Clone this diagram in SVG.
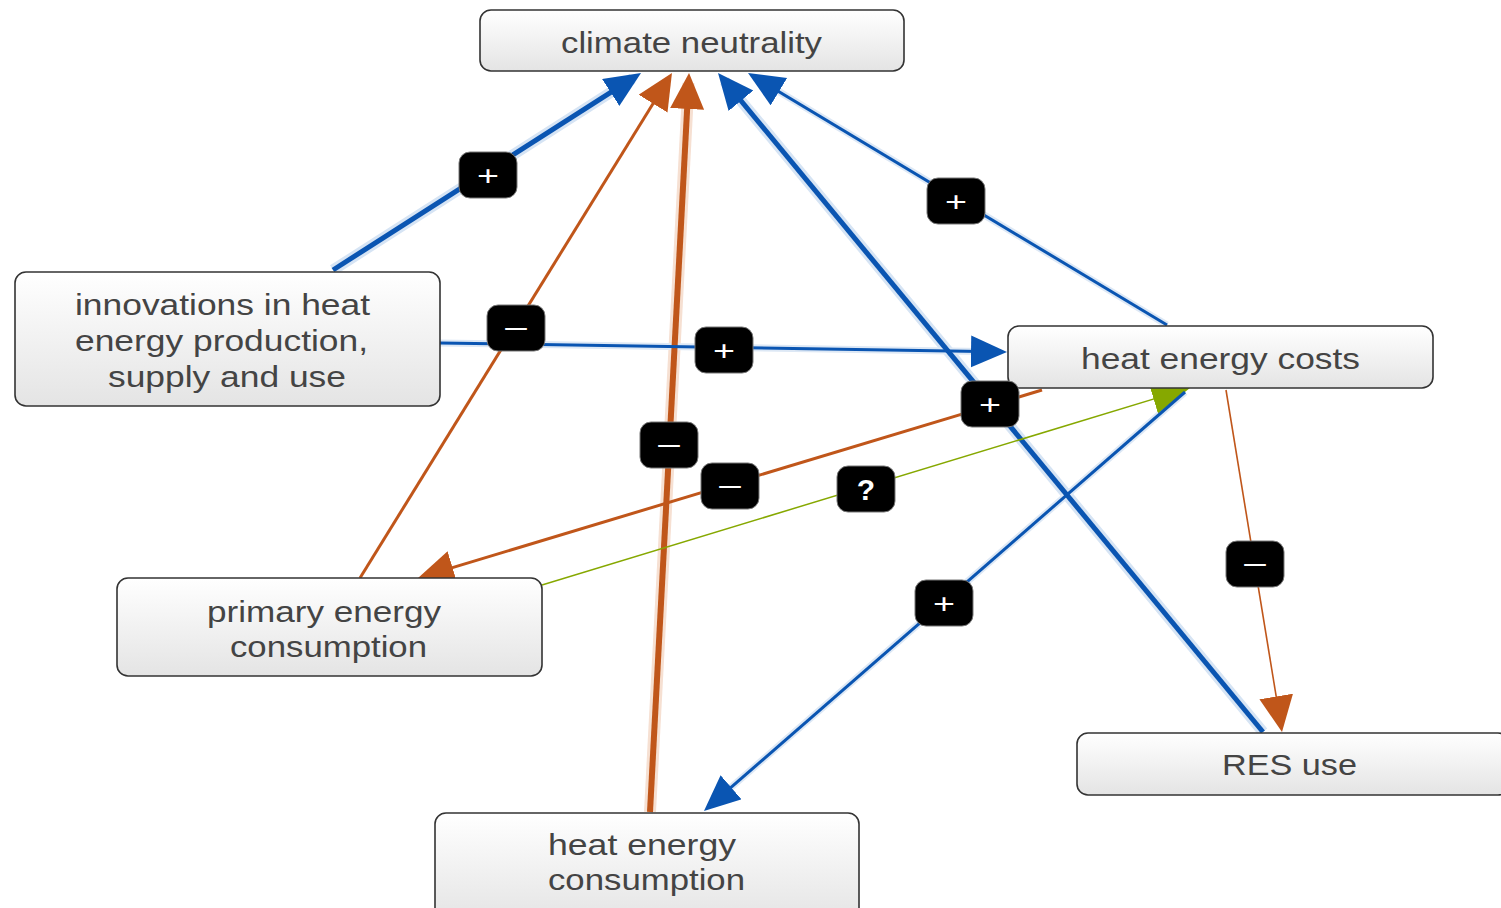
<svg xmlns="http://www.w3.org/2000/svg" width="1501" height="908" viewBox="0 0 1501 908">
<defs>
<linearGradient id="nodeFill" x1="0" y1="0" x2="0" y2="1">
<stop offset="0" stop-color="#ffffff"/>
<stop offset="1" stop-color="#e4e4e4"/>
</linearGradient>
<marker id="aBlue" markerUnits="userSpaceOnUse" markerWidth="38" markerHeight="34" refX="26" refY="16" orient="auto" viewBox="0 0 38 34">
<path d="M0,0 L36,16 L0,32 z" fill="#0a55b2"/>
</marker>
<marker id="aOrange" markerUnits="userSpaceOnUse" markerWidth="38" markerHeight="36" refX="26" refY="17" orient="auto" viewBox="0 0 38 36">
<path d="M0,0 L36,17 L0,34 z" fill="#c0561a"/>
</marker>
<marker id="aGreen" markerUnits="userSpaceOnUse" markerWidth="40" markerHeight="32" refX="28" refY="15" orient="auto" viewBox="0 0 40 32">
<path d="M0,0 L38,15 L0,30 z" fill="#86a800"/>
</marker>
</defs>
<style>
.node rect{fill:url(#nodeFill);stroke:#333;stroke-width:1.6}
.node text{font-family:"Liberation Sans",Arial,sans-serif;font-size:29px;fill:#444;text-anchor:middle}
.edge{fill:none;stroke-linecap:butt}
.halo{fill:none;stroke-linecap:butt}
.blue{stroke:#0a55b2}
.orange{stroke:#c0561a}
.green{stroke:#86a800}
.badge rect{fill:#000;stroke:#777;stroke-width:1}
.badge text{font-family:"Liberation Sans",Arial,sans-serif;fill:#fff;text-anchor:middle}
</style>

<g id="connectors">
<line class="halo" x1="333" y1="270" x2="632.6" y2="78.4" stroke="#d6e4f4" stroke-width="11"/>
<line class="halo" x1="1263" y1="732" x2="724.4" y2="80.7" stroke="#d6e4f4" stroke-width="11"/>
<line class="halo" x1="650" y1="812" x2="688.5" y2="83" stroke="#f6e0d2" stroke-width="12"/>
<line class="halo" x1="1167" y1="325" x2="756.6" y2="78.2" stroke="#dde8f5" stroke-width="7"/>
<line class="halo" x1="1185" y1="392" x2="711.5" y2="804.4" stroke="#dde8f5" stroke-width="7"/>
<line class="halo" x1="440" y1="343" x2="997" y2="351.8" stroke="#dde8f5" stroke-width="7"/>
<line id="e1" class="edge blue" x1="333" y1="270" x2="632.6" y2="78.4" stroke-width="5" marker-end="url(#aBlue)"/>
<line id="e2" class="edge orange" x1="360" y1="578" x2="666.7" y2="81.5" stroke-width="3" marker-end="url(#aOrange)"/>
<line id="e3" class="edge orange" x1="650" y1="812" x2="688.5" y2="83" stroke-width="6" marker-end="url(#aOrange)"/>
<line id="e4" class="edge blue" x1="1263" y1="732" x2="724.4" y2="80.7" stroke-width="5" marker-end="url(#aBlue)"/>
<line id="e5" class="edge blue" x1="1167" y1="325" x2="756.6" y2="78.2" stroke-width="3" marker-end="url(#aBlue)"/>
<line id="e6" class="edge blue" x1="440" y1="343" x2="997" y2="351.8" stroke-width="3" marker-end="url(#aBlue)"/>
<line id="e7" class="edge orange" x1="1042" y1="390" x2="427.6" y2="575.1" stroke-width="3" marker-end="url(#aOrange)"/>
<line id="e8" class="edge green" x1="542" y1="585" x2="1180.4" y2="390.9" stroke-width="1.5" marker-end="url(#aGreen)"/>
<line id="e9" class="edge blue" x1="1185" y1="392" x2="711.5" y2="804.4" stroke-width="3" marker-end="url(#aBlue)"/>
<line id="e10" class="edge orange" x1="1226" y1="390" x2="1280.4" y2="722.1" stroke-width="1.6" marker-end="url(#aOrange)"/>
</g>

<g id="n-climate" class="node">
<rect x="480" y="10" width="424" height="61" rx="11"/>
<text x="691.5" y="53" textLength="261" lengthAdjust="spacingAndGlyphs">climate neutrality</text>
</g>
<g id="n-innovations" class="node">
<rect x="15" y="272" width="425" height="134" rx="11"/>
<text x="222.5" y="315" textLength="295" lengthAdjust="spacingAndGlyphs">innovations in heat</text>
<text x="221.5" y="351" textLength="293" lengthAdjust="spacingAndGlyphs">energy production,</text>
<text x="227" y="387" textLength="238" lengthAdjust="spacingAndGlyphs">supply and use</text>
</g>
<g id="n-costs" class="node">
<rect x="1008" y="326" width="425" height="62" rx="11"/>
<text x="1220.5" y="369" textLength="279" lengthAdjust="spacingAndGlyphs">heat energy costs</text>
</g>
<g id="n-primary" class="node">
<rect x="117" y="578" width="425" height="98" rx="11"/>
<text x="324" y="622" textLength="234" lengthAdjust="spacingAndGlyphs">primary energy</text>
<text x="328.5" y="657" textLength="197" lengthAdjust="spacingAndGlyphs">consumption</text>
</g>
<g id="n-res" class="node">
<rect x="1077" y="733" width="432" height="62" rx="11"/>
<text x="1289.5" y="775" textLength="135" lengthAdjust="spacingAndGlyphs">RES use</text>
</g>
<g id="n-heatcons" class="node">
<rect x="435" y="813" width="424" height="110" rx="11"/>
<text x="642" y="855" textLength="188" lengthAdjust="spacingAndGlyphs">heat energy</text>
<text x="646.5" y="890" textLength="197" lengthAdjust="spacingAndGlyphs">consumption</text>
</g>

<g id="labels">
<g class="badge"><rect x="459" y="152" width="58" height="46" rx="11"/><text x="488" y="185" font-size="28" textLength="22" lengthAdjust="spacingAndGlyphs">+</text></g>
<g class="badge"><rect x="487" y="305" width="58" height="46" rx="11"/><text x="516" y="338" font-size="28" textLength="26" lengthAdjust="spacingAndGlyphs">−</text></g>
<g class="badge"><rect x="640" y="422" width="58" height="46" rx="11"/><text x="669" y="455" font-size="28" textLength="26" lengthAdjust="spacingAndGlyphs">−</text></g>
<g class="badge"><rect x="961" y="381" width="58" height="46" rx="11"/><text x="990" y="414" font-size="28" textLength="22" lengthAdjust="spacingAndGlyphs">+</text></g>
<g class="badge"><rect x="927" y="178" width="58" height="46" rx="11"/><text x="956" y="211" font-size="28" textLength="22" lengthAdjust="spacingAndGlyphs">+</text></g>
<g class="badge"><rect x="695" y="327" width="58" height="46" rx="11"/><text x="724" y="360" font-size="28" textLength="22" lengthAdjust="spacingAndGlyphs">+</text></g>
<g class="badge"><rect x="701" y="463" width="58" height="46" rx="11"/><text x="730" y="496" font-size="28" textLength="26" lengthAdjust="spacingAndGlyphs">−</text></g>
<g class="badge"><rect x="837" y="466" width="58" height="46" rx="11"/><text x="866" y="500" font-size="30" font-weight="bold">?</text></g>
<g class="badge"><rect x="915" y="580" width="58" height="46" rx="11"/><text x="944" y="613" font-size="28" textLength="22" lengthAdjust="spacingAndGlyphs">+</text></g>
<g class="badge"><rect x="1226" y="541" width="58" height="46" rx="11"/><text x="1255" y="574" font-size="28" textLength="26" lengthAdjust="spacingAndGlyphs">−</text></g>
</g>
</svg>
